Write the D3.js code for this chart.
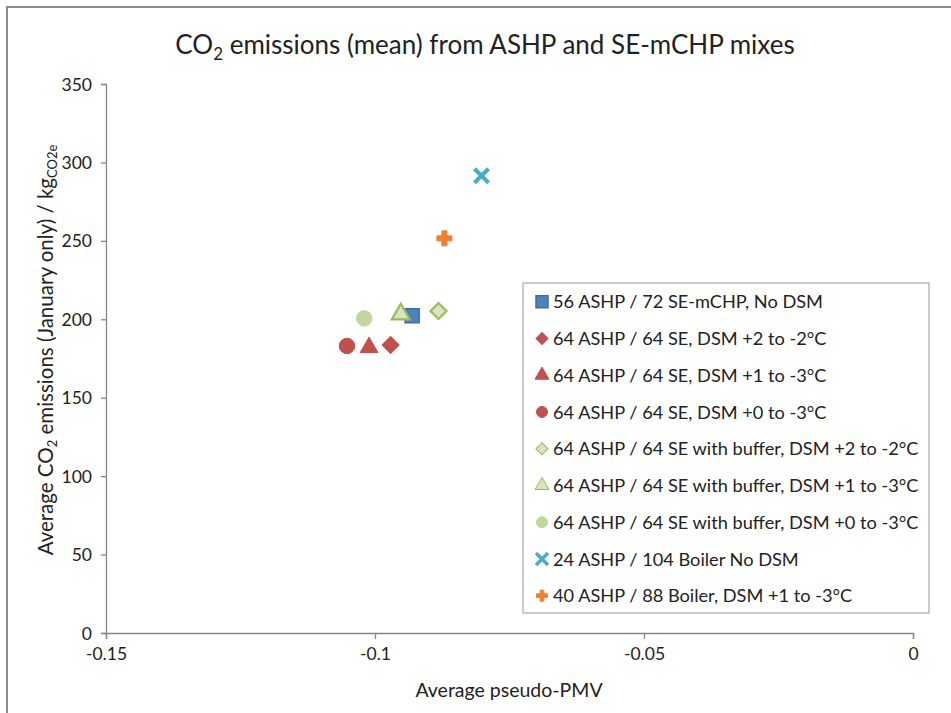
<!DOCTYPE html>
<html><head><meta charset="utf-8">
<script src="https://cdn.jsdelivr.net/npm/d3@7"></script>
<style>body{margin:0;background:#fff;} text{font-family:Lato,"Open Sans",sans-serif;fill:#222;}</style>
</head><body>
<svg id="c" width="951" height="713"></svg>
<script>
const seriesNames = [
  "56 ASHP / 72 SE-mCHP, No DSM",
  "64 ASHP / 64 SE, DSM +2 to -2°C",
  "64 ASHP / 64 SE, DSM +1 to -3°C",
  "64 ASHP / 64 SE, DSM +0 to -3°C",
  "64 ASHP / 64 SE with buffer, DSM +2 to -2°C",
  "64 ASHP / 64 SE with buffer, DSM +1 to -3°C",
  "64 ASHP / 64 SE with buffer, DSM +0 to -3°C",
  "24 ASHP / 104 Boiler No DSM",
  "40 ASHP / 88 Boiler, DSM +1 to -3°C"
];
const pmvValues = [-0.0931, -0.0971, -0.1011, -0.1052, -0.0882, -0.0952, -0.1020, -0.0802, -0.0871];
const co2Values = [202.3, 183.6, 183.0, 183.0, 205.3, 204.2, 200.6, 291.5, 251.6];
const markerTypes = ["square","diamond","triangle","circle","diamond","triangle","circle","x","plus"];
const fillColors = ["#4F81BD","#C0504D","#C0504D","#C0504D","#D7E4BD","#D7E4BD","#C3D69B","#4BACC6","#EE8130"];
const strokeColors = ["#3D6DA8","#C0504D","#C0504D","#C0504D","#9BBB59","#9BBB59","#C3D69B","#4BACC6","#EE8130"];
const xTicks = [-0.15, -0.1, -0.05, 0];
const xTickLabels = ["-0.15", "-0.1", "-0.05", "0"];
const yTicks = [0, 50, 100, 150, 200, 250, 300, 350];

const svg = d3.select("#c");
const axisColor = "#868686";

// outer chart border
svg.append("rect").attr("x", 7).attr("y", 7).attr("width", 960).attr("height", 720)
  .attr("fill", "none").attr("stroke", "#8c8c8c").attr("stroke-width", 2);

const x = d3.scaleLinear().domain([-0.15, 0]).range([106, 913]);
const y = d3.scaleLinear().domain([0, 350]).range([633, 84]);

// y axis
const yAxis = svg.append("g").attr("transform", `translate(${x(-0.15)},0)`)
  .call(d3.axisLeft(y).tickValues(yTicks).tickSize(5).tickPadding(9).tickFormat(d3.format("d")));
// x axis
const xAxis = svg.append("g").attr("transform", `translate(0,${y(0)})`)
  .call(d3.axisBottom(x).tickValues(xTicks).tickSize(6).tickPadding(9)
    .tickFormat((d, i) => xTickLabels[i]));
[xAxis, yAxis].forEach(g => {
  g.select(".domain").attr("stroke", axisColor).attr("stroke-width", 1.3);
  g.selectAll(".tick line").attr("stroke", axisColor).attr("stroke-width", 1.3);
  g.selectAll(".tick text").attr("font-size", 17.5).attr("fill", "#222")
    .style("font-family", "Lato, sans-serif");
});
yAxis.selectAll(".tick text").attr("dy", "0.35em");

function markerPath(type, s) {
  if (type === "square") return d3.symbol(d3.symbolSquare, s * s)();
  if (type === "diamond") return d3.symbol(d3.symbolSquare, (s / Math.SQRT2) ** 2)();
  if (type === "triangle") return d3.symbol(d3.symbolTriangle, Math.sqrt(3) / 4 * s * s)();
  if (type === "circle") return d3.symbol(d3.symbolCircle, Math.PI * (s / 2) ** 2)();
  if (type === "plus") return d3.symbol(d3.symbolCross, 5 * (s / 3) ** 2)();
  if (type === "x") { const h = s / 2 - 1.5; return `M${-h},${-h}L${h},${h}M${-h},${h}L${h},${-h}`; }
}
function drawMarker(g, i, s, legend) {
  const t = markerTypes[i];
  const p = g.append("path").attr("d", markerPath(t, s));
  if (t === "diamond") p.attr("transform", "rotate(45)");
  if (t === "x") {
    p.attr("fill", "none").attr("stroke", fillColors[i]).attr("stroke-width", legend ? 3.4 : 4);
  } else {
    p.attr("fill", fillColors[i]).attr("stroke", strokeColors[i])
     .attr("stroke-width", (i === 4 || i === 5) && !legend ? 2.2 : (i === 0 ? 1.5 : 1));
  }
}
const plotSizes = [14, 17, 18, 15.5, 16, 18, 15.5, 17, 15];
const pts = svg.append("g");
pmvValues.forEach((v, i) => {
  const g = pts.append("g").attr("transform", `translate(${x(v)},${y(co2Values[i]) + (markerTypes[i]==="triangle"?1.5:0)})`);
  drawMarker(g, i, plotSizes[i], false);
});

// legend
const leg = svg.append("g");
leg.append("rect").attr("x", 523).attr("y", 283).attr("width", 406).attr("height", 330)
  .attr("fill", "#fff").attr("stroke", "#b0b0b0").attr("stroke-width", 1.3);
const legSizes = [12, 12, 14, 11, 12, 14, 11, 15, 11];
seriesNames.forEach((name, i) => {
  const cy = 301.7 + i * 36.75;
  const g = leg.append("g").attr("transform", `translate(542,${cy})`);
  drawMarker(g, i, legSizes[i], true);
  leg.append("text").attr("x", 553).attr("y", cy).attr("dy", "0.36em")
    .attr("font-size", 18.2).text(name);
});

// title
const title = svg.append("text").attr("x", 485).attr("y", 54).attr("text-anchor", "middle").attr("font-size", 26);
title.append("tspan").text("CO");
title.append("tspan").attr("font-size", 17).attr("dy", 6).text("2");
title.append("tspan").attr("dy", -6).text(" emissions (mean) from ASHP and SE-mCHP mixes");

// y title
const yt = svg.append("text").attr("transform", "translate(53,350) rotate(-90)")
  .attr("text-anchor", "middle").attr("font-size", 20.5);
yt.append("tspan").text("Average CO");
yt.append("tspan").attr("font-size", 13).attr("dy", 4).text("2");
yt.append("tspan").attr("dy", -4).text(" emissions (January only) / kg");
yt.append("tspan").attr("font-size", 13).attr("dy", 4).text("CO2e");

// x title
svg.append("text").attr("x", 509).attr("y", 697).attr("text-anchor", "middle")
  .attr("font-size", 19.5).text("Average pseudo-PMV");
</script>
</body></html>
